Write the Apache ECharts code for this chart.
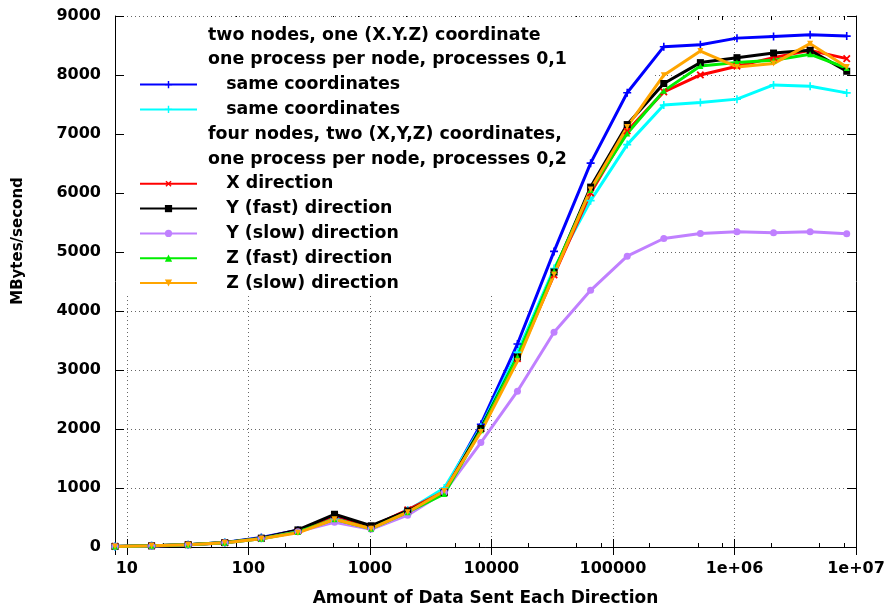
<!DOCTYPE html>
<html>
<head>
<meta charset="utf-8">
<script src="https://cdn.jsdelivr.net/npm/echarts@6/dist/echarts.min.js"></script>
<style>
html,body{margin:0;padding:0;background:#fff;}
#chart{width:889px;height:612px;}
</style>
</head>
<body>
<div id="chart"></div>
<script>
// ---- data ----
const sizes = [8,16,32,64,128,256,512,1024,2048,4096,8192,16384,32768,65536,131072,262144,524288,1048576,2097152,4194304,8388608];
const sameCoordA = [10,20,40,78,160,285,500,340,620,960,2080,3440,5010,6506,7700,8480,8514,8625,8654,8683,8659];
const sameCoordB = [10,20,40,75,150,270,480,320,620,1000,2030,3300,4720,5870,6820,7490,7535,7591,7832,7810,7697];
const xDir = [10,20,38,72,145,270,540,340,630,940,2000,3190,4610,6000,7050,7714,8001,8148,8294,8418,8277];
const yFast = [10,20,40,75,150,290,555,360,610,920,2010,3220,4660,6100,7160,7856,8210,8294,8372,8418,8063];
const ySlow = [8,18,35,70,140,260,420,300,540,930,1770,2640,3640,4350,4930,5229,5314,5342,5326,5342,5309];
const zFast = [10,20,38,72,140,255,470,310,590,900,1980,3230,4680,6050,7010,7731,8153,8210,8249,8350,8119];
const zSlow = [10,20,38,72,140,240,470,310,590,950,1950,3150,4620,6060,7120,7996,8406,8136,8193,8531,8136];
const xTickLabels = ['10','100','1000','10000','100000','1e+06','1e+07'];
const xMinorTicks = [20,50,80,200,500,800,2000,5000,8000,20000,50000,80000,200000,500000,800000,2000000,5000000,8000000];
const yTicks = [0,1000,2000,3000,4000,5000,6000,7000,8000,9000];
const legendNames = [
  ' two nodes, one (X.Y.Z) coordinate',
  ' one process per node, processes 0,1',
  '    same coordinates',
  '    same coordinates ',
  ' four nodes, two (X,Y,Z) coordinates,',
  ' one process per node, processes 0,2',
  '    X direction',
  '    Y (fast) direction',
  '    Y (slow) direction',
  '    Z (fast) direction',
  '    Z (slow) direction'
];
const xTitle = 'Amount of Data Sent Each Direction';
const yTitle = 'MBytes/second';

// ---- build ----
const FONT = 'DejaVu Sans';
const PLUS = 'path://M4,0H6V4H10V6H6V10H4V6H0V4H4Z';
function pairs(arr){ return arr.map((v,i)=>[sizes[i], v]); }
function mkSeries(name, data, color, symbol, size, rot){
  return {
    name: name, type: 'line', data: pairs(data),
    symbol: symbol, symbolSize: size, symbolRotate: rot || 0,
    showSymbol: true,
    lineStyle: {width: 3, color: color},
    itemStyle: {color: color},
    emphasis: {disabled: true}
  };
}
const series = [
  {name: legendNames[0], type:'line', data: []},
  {name: legendNames[1], type:'line', data: []},
  mkSeries(legendNames[2], sameCoordA, '#0000ff', PLUS, 8),
  mkSeries(legendNames[3], sameCoordB, '#00ffff', PLUS, 8),
  {name: legendNames[4], type:'line', data: []},
  {name: legendNames[5], type:'line', data: []},
  mkSeries(legendNames[6], xDir, '#ff0000', PLUS, 9, 45),
  mkSeries(legendNames[7], yFast, '#000000', 'rect', 7),
  mkSeries(legendNames[8], ySlow, '#c080ff', 'circle', 7),
  mkSeries(legendNames[9], zFast, '#00ee00', 'triangle', 6),
  mkSeries(legendNames[10], zSlow, '#ffa500', 'triangle', 6, 180)
];
const dummy = [0,1,4,5];
const legendData = legendNames.map((n,i)=> dummy.indexOf(i) >= 0 ? {name:n, icon:'none'} : {name:n});

const gridLine = {show:true, lineStyle:{color:'#666', width:1, type:[1,3]}};
const axisLine = {show:true, lineStyle:{color:'#000', width:1}};
const logBase = {type: 'log', logBase: 10, min: 8, max: 1e7};

const chart = echarts.init(document.getElementById('chart'), null, {renderer:'canvas'});
chart.setOption({
  animation: false,
  backgroundColor: '#fff',
  grid: {left:115, right:33, top:16, bottom:63, containLabel:false},
  legend: {
    data: legendData,
    orient: 'vertical',
    left: 139, top: 25, padding: 0,
    itemWidth: 57, itemHeight: 9, itemGap: 4.8,
    selectedMode: false,
    textStyle: {fontFamily: FONT, fontWeight:'bold', fontSize: 17.4, color:'#000', lineHeight: 20}
  },
  graphic: [{
    type: 'rect', z: 1, silent: true,
    shape: {x:127, y:17, width:526, height:278},
    style: {fill:'#fff'}
  },{
    type: 'text', z: 5, silent: true,
    x: 18, y: 241, rotation: Math.PI/2,
    style: {text: yTitle, fontFamily: FONT, fontWeight:'bold', fontSize: 15, fill:'#000',
            align:'center', verticalAlign:'middle'}
  }],
  xAxis: [Object.assign({}, logBase, {
    position: 'bottom',
    axisLine: axisLine,
    axisTick: {show:true, inside:true, length:8, lineStyle:{color:'#000'}},
    splitLine: gridLine,
    axisLabel: {
      showMinLabel:false, showMaxLabel:true, margin: 14,
      fontFamily: FONT, fontWeight:'bold', fontSize: 16, color:'#000',
      formatter: function(v){ const k = Math.round(Math.log10(v)); return xTickLabels[k-1] || ''; }
    },
    name: xTitle, nameLocation: 'middle', nameGap: 43,
    nameTextStyle: {fontFamily: FONT, fontWeight:'bold', fontSize: 17, color:'#000'}
  }), Object.assign({}, logBase, {
    position: 'top',
    axisLine: axisLine,
    axisTick: {show:true, inside:true, length:8, lineStyle:{color:'#000'}},
    splitLine: {show:false}, axisLabel: {show:false}
  }), Object.assign({}, logBase, {
    position: 'bottom',
    axisLine: {show:false},
    axisTick: {show:true, inside:true, length:4, lineStyle:{color:'#000'}, customValues: xMinorTicks},
    splitLine: {show:false}, axisLabel: {show:false}
  }), Object.assign({}, logBase, {
    position: 'top',
    axisLine: {show:false},
    axisTick: {show:true, inside:true, length:4, lineStyle:{color:'#000'}, customValues: xMinorTicks},
    splitLine: {show:false}, axisLabel: {show:false}
  })],
  yAxis: [{
    type: 'value', min: 0, max: 9000, interval: 1000, position: 'left',
    axisLine: axisLine,
    axisTick: {show:true, inside:true, length:9, lineStyle:{color:'#000'}},
    splitLine: gridLine,
    axisLabel: {margin: 14, fontFamily: FONT, fontWeight:'bold', fontSize: 16, color:'#000',
      formatter: function(v){ return yTicks.indexOf(v) >= 0 ? String(v) : ''; }}
  },{
    type: 'value', min: 0, max: 9000, interval: 1000, position: 'right',
    axisLine: axisLine,
    axisTick: {show:true, inside:true, length:9, lineStyle:{color:'#000'}},
    splitLine: {show:false}, axisLabel: {show:false}
  }],
  series: series
});
</script>
</body>
</html>
